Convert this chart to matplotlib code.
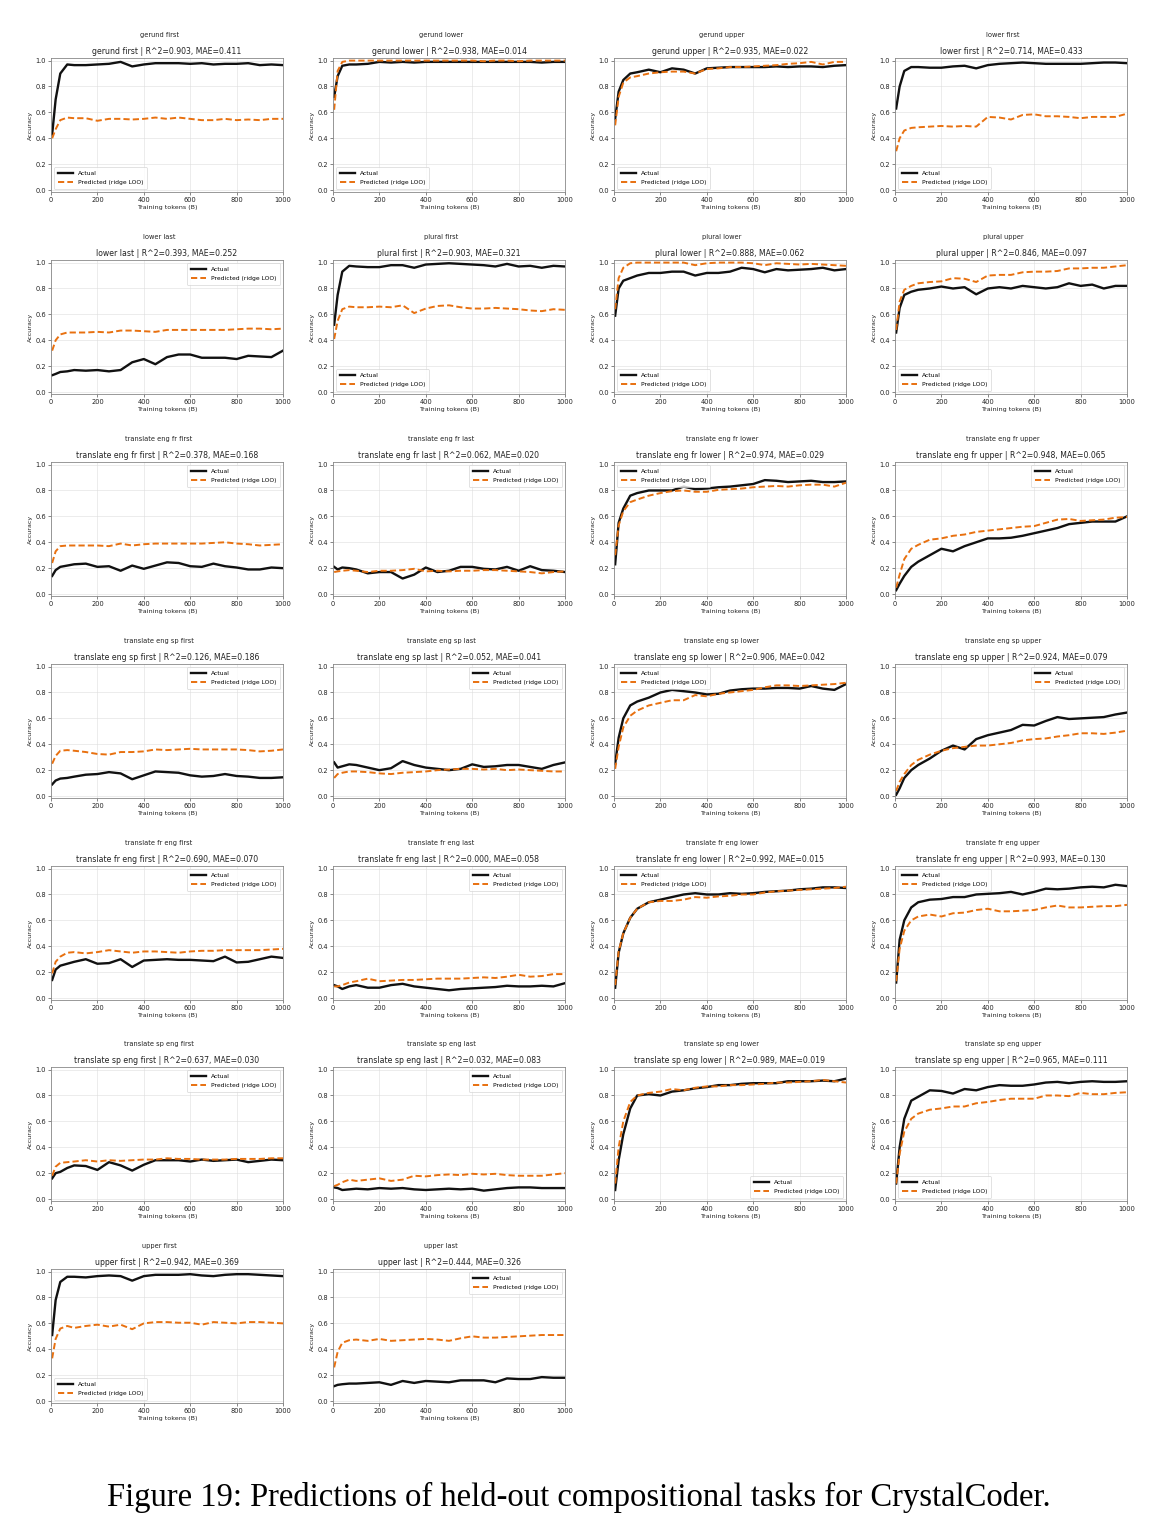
import matplotlib
matplotlib.use('Agg')
from matplotlib import pyplot as plt

filename = 'out.png'

# training tokens (B) at which checkpoints were evaluated
tokens = [5, 20, 40, 70, 100, 150, 200, 250, 300, 350, 400, 450, 500,
          550, 600, 650, 700, 750, 800, 850, 900, 950, 1000]

tasks = [
    'gerund first', 'gerund lower', 'gerund upper', 'lower first',
    'lower last', 'plural first', 'plural lower', 'plural upper',
    'translate eng fr first', 'translate eng fr last', 'translate eng fr lower', 'translate eng fr upper',
    'translate eng sp first', 'translate eng sp last', 'translate eng sp lower', 'translate eng sp upper',
    'translate fr eng first', 'translate fr eng last', 'translate fr eng lower', 'translate fr eng upper',
    'translate sp eng first', 'translate sp eng last', 'translate sp eng lower', 'translate sp eng upper',
    'upper first', 'upper last',
]

r2 = [0.903, 0.938, 0.935, 0.714, 0.393, 0.903, 0.888, 0.846,
      0.378, 0.062, 0.974, 0.948, 0.126, 0.052, 0.906, 0.924,
      0.690, 0.000, 0.992, 0.993, 0.637, 0.032, 0.989, 0.965,
      0.942, 0.444]
mae = [0.411, 0.014, 0.022, 0.433, 0.252, 0.321, 0.062, 0.097,
       0.168, 0.020, 0.029, 0.065, 0.186, 0.041, 0.042, 0.079,
       0.070, 0.058, 0.015, 0.130, 0.030, 0.083, 0.019, 0.111,
       0.369, 0.326]

actual = [
    [0.43, 0.70, 0.90, 0.97, 0.965, 0.965, 0.97, 0.975, 0.99, 0.955, 0.97, 0.98, 0.98, 0.98, 0.975, 0.98, 0.97, 0.975, 0.975, 0.98, 0.965, 0.97, 0.965],
    [0.72, 0.88, 0.96, 0.97, 0.97, 0.975, 0.99, 0.985, 0.99, 0.985, 0.99, 0.99, 0.99, 0.99, 0.99, 0.99, 0.99, 0.99, 0.99, 0.99, 0.985, 0.99, 0.99],
    [0.55, 0.76, 0.85, 0.90, 0.91, 0.93, 0.91, 0.94, 0.93, 0.90, 0.94, 0.945, 0.95, 0.95, 0.95, 0.95, 0.955, 0.95, 0.955, 0.955, 0.95, 0.96, 0.965],
    [0.63, 0.80, 0.92, 0.95, 0.95, 0.945, 0.945, 0.955, 0.96, 0.94, 0.965, 0.975, 0.98, 0.985, 0.98, 0.975, 0.975, 0.975, 0.975, 0.98, 0.985, 0.985, 0.98],
    [0.13, 0.14, 0.155, 0.16, 0.17, 0.165, 0.17, 0.16, 0.17, 0.23, 0.255, 0.215, 0.27, 0.29, 0.29, 0.265, 0.265, 0.265, 0.255, 0.28, 0.275, 0.27, 0.32],
    [0.52, 0.75, 0.93, 0.975, 0.97, 0.965, 0.965, 0.98, 0.98, 0.96, 0.985, 0.99, 0.995, 0.99, 0.985, 0.98, 0.97, 0.99, 0.97, 0.975, 0.96, 0.975, 0.97],
    [0.59, 0.80, 0.86, 0.88, 0.90, 0.92, 0.92, 0.93, 0.93, 0.90, 0.92, 0.92, 0.93, 0.96, 0.95, 0.925, 0.95, 0.94, 0.945, 0.95, 0.96, 0.94, 0.95],
    [0.46, 0.65, 0.75, 0.775, 0.79, 0.80, 0.815, 0.80, 0.81, 0.755, 0.80, 0.81, 0.80, 0.82, 0.81, 0.80, 0.81, 0.84, 0.82, 0.83, 0.80, 0.82, 0.82],
    [0.14, 0.185, 0.21, 0.22, 0.23, 0.235, 0.21, 0.215, 0.18, 0.22, 0.195, 0.22, 0.245, 0.24, 0.215, 0.21, 0.235, 0.215, 0.205, 0.19, 0.19, 0.205, 0.20],
    [0.21, 0.19, 0.205, 0.20, 0.19, 0.16, 0.17, 0.17, 0.12, 0.15, 0.205, 0.17, 0.18, 0.21, 0.21, 0.195, 0.19, 0.21, 0.18, 0.215, 0.185, 0.18, 0.17],
    [0.23, 0.55, 0.66, 0.76, 0.78, 0.80, 0.80, 0.80, 0.83, 0.81, 0.815, 0.825, 0.83, 0.84, 0.85, 0.88, 0.875, 0.865, 0.87, 0.875, 0.865, 0.865, 0.87],
    [0.03, 0.08, 0.14, 0.21, 0.25, 0.30, 0.35, 0.33, 0.37, 0.40, 0.43, 0.43, 0.435, 0.45, 0.47, 0.49, 0.51, 0.54, 0.55, 0.56, 0.56, 0.56, 0.60],
    [0.09, 0.12, 0.135, 0.14, 0.15, 0.165, 0.17, 0.185, 0.175, 0.13, 0.16, 0.19, 0.185, 0.18, 0.16, 0.15, 0.155, 0.17, 0.155, 0.15, 0.14, 0.14, 0.145],
    [0.26, 0.22, 0.23, 0.245, 0.24, 0.22, 0.20, 0.215, 0.27, 0.24, 0.22, 0.21, 0.20, 0.21, 0.245, 0.225, 0.23, 0.24, 0.24, 0.225, 0.21, 0.24, 0.26],
    [0.25, 0.45, 0.60, 0.70, 0.73, 0.76, 0.80, 0.82, 0.81, 0.80, 0.785, 0.79, 0.815, 0.825, 0.83, 0.83, 0.835, 0.835, 0.83, 0.85, 0.83, 0.82, 0.865],
    [0.01, 0.06, 0.14, 0.20, 0.24, 0.29, 0.35, 0.39, 0.36, 0.44, 0.47, 0.49, 0.51, 0.55, 0.545, 0.58, 0.61, 0.595, 0.60, 0.605, 0.61, 0.63, 0.645],
    [0.14, 0.22, 0.25, 0.265, 0.28, 0.30, 0.265, 0.27, 0.30, 0.24, 0.29, 0.295, 0.30, 0.295, 0.295, 0.29, 0.285, 0.32, 0.275, 0.28, 0.30, 0.32, 0.31],
    [0.10, 0.09, 0.07, 0.09, 0.10, 0.08, 0.08, 0.10, 0.11, 0.09, 0.08, 0.07, 0.06, 0.07, 0.075, 0.08, 0.085, 0.095, 0.09, 0.09, 0.095, 0.09, 0.115],
    [0.08, 0.35, 0.50, 0.62, 0.69, 0.74, 0.76, 0.78, 0.80, 0.81, 0.80, 0.80, 0.81, 0.805, 0.81, 0.82, 0.825, 0.83, 0.84, 0.845, 0.855, 0.855, 0.85],
    [0.12, 0.45, 0.60, 0.70, 0.74, 0.76, 0.765, 0.78, 0.78, 0.80, 0.805, 0.81, 0.82, 0.80, 0.82, 0.845, 0.84, 0.845, 0.855, 0.86, 0.855, 0.875, 0.865],
    [0.16, 0.20, 0.21, 0.24, 0.26, 0.255, 0.225, 0.285, 0.26, 0.22, 0.265, 0.30, 0.30, 0.30, 0.29, 0.305, 0.295, 0.30, 0.305, 0.285, 0.295, 0.305, 0.30],
    [0.09, 0.085, 0.07, 0.075, 0.08, 0.075, 0.085, 0.08, 0.085, 0.075, 0.07, 0.075, 0.08, 0.075, 0.08, 0.065, 0.075, 0.085, 0.09, 0.09, 0.085, 0.085, 0.085],
    [0.07, 0.30, 0.50, 0.70, 0.80, 0.81, 0.80, 0.83, 0.84, 0.855, 0.865, 0.88, 0.88, 0.89, 0.895, 0.895, 0.895, 0.91, 0.91, 0.91, 0.915, 0.91, 0.93],
    [0.12, 0.40, 0.62, 0.76, 0.79, 0.84, 0.835, 0.815, 0.85, 0.84, 0.865, 0.88, 0.875, 0.875, 0.885, 0.90, 0.905, 0.895, 0.905, 0.91, 0.905, 0.905, 0.91],
    [0.51, 0.78, 0.92, 0.96, 0.96, 0.955, 0.965, 0.97, 0.965, 0.93, 0.965, 0.975, 0.975, 0.975, 0.98, 0.97, 0.965, 0.975, 0.98, 0.98, 0.975, 0.97, 0.965],
    [0.115, 0.125, 0.13, 0.135, 0.135, 0.14, 0.145, 0.125, 0.155, 0.14, 0.155, 0.15, 0.145, 0.16, 0.16, 0.16, 0.145, 0.175, 0.17, 0.17, 0.185, 0.18, 0.18],
]

predicted = [
    [0.40, 0.47, 0.54, 0.56, 0.555, 0.555, 0.535, 0.55, 0.55, 0.545, 0.55, 0.56, 0.55, 0.56, 0.55, 0.54, 0.54, 0.55, 0.54, 0.545, 0.54, 0.55, 0.55],
    [0.62, 0.92, 0.99, 1.0, 1.0, 1.0, 1.0, 1.0, 1.0, 1.0, 1.0, 1.0, 1.0, 1.0, 1.0, 0.995, 1.0, 1.0, 0.995, 1.0, 1.0, 1.0, 1.0],
    [0.50, 0.72, 0.83, 0.87, 0.88, 0.90, 0.91, 0.915, 0.915, 0.90, 0.935, 0.94, 0.95, 0.95, 0.955, 0.96, 0.965, 0.975, 0.98, 0.99, 0.97, 0.99, 0.99],
    [0.30, 0.40, 0.46, 0.48, 0.485, 0.49, 0.495, 0.49, 0.495, 0.49, 0.565, 0.56, 0.545, 0.58, 0.585, 0.57, 0.57, 0.565, 0.555, 0.565, 0.565, 0.565, 0.59],
    [0.32, 0.40, 0.445, 0.46, 0.46, 0.46, 0.465, 0.46, 0.475, 0.475, 0.47, 0.465, 0.48, 0.48, 0.48, 0.48, 0.48, 0.48, 0.485, 0.49, 0.49, 0.485, 0.49],
    [0.41, 0.55, 0.64, 0.66, 0.655, 0.655, 0.66, 0.655, 0.67, 0.61, 0.645, 0.665, 0.67, 0.655, 0.645, 0.645, 0.65, 0.645, 0.64, 0.63, 0.625, 0.64, 0.635],
    [0.64, 0.88, 0.96, 0.995, 1.0, 1.0, 1.0, 1.0, 1.0, 0.98, 0.995, 1.0, 1.0, 1.0, 0.995, 0.98, 0.995, 0.99, 0.985, 0.99, 0.985, 0.98, 0.975],
    [0.48, 0.70, 0.79, 0.82, 0.84, 0.85, 0.855, 0.88, 0.875, 0.85, 0.90, 0.905, 0.905, 0.925, 0.93, 0.93, 0.935, 0.955, 0.955, 0.96, 0.96, 0.97, 0.98],
    [0.24, 0.33, 0.37, 0.375, 0.375, 0.375, 0.375, 0.37, 0.39, 0.375, 0.385, 0.39, 0.39, 0.39, 0.39, 0.39, 0.395, 0.40, 0.39, 0.385, 0.375, 0.38, 0.385],
    [0.17, 0.175, 0.18, 0.185, 0.18, 0.17, 0.18, 0.18, 0.185, 0.195, 0.175, 0.18, 0.175, 0.18, 0.18, 0.185, 0.185, 0.18, 0.175, 0.17, 0.16, 0.17, 0.175],
    [0.30, 0.53, 0.64, 0.71, 0.73, 0.76, 0.78, 0.795, 0.80, 0.79, 0.79, 0.805, 0.81, 0.815, 0.825, 0.83, 0.835, 0.83, 0.84, 0.845, 0.845, 0.83, 0.86],
    [0.05, 0.15, 0.27, 0.35, 0.38, 0.42, 0.43, 0.45, 0.46, 0.48, 0.49, 0.50, 0.51, 0.52, 0.525, 0.55, 0.575, 0.58, 0.565, 0.57, 0.575, 0.59, 0.595],
    [0.25, 0.31, 0.35, 0.355, 0.35, 0.34, 0.325, 0.32, 0.34, 0.34, 0.345, 0.36, 0.355, 0.36, 0.365, 0.36, 0.36, 0.36, 0.36, 0.355, 0.345, 0.35, 0.36],
    [0.14, 0.17, 0.18, 0.19, 0.19, 0.185, 0.175, 0.17, 0.18, 0.185, 0.19, 0.20, 0.205, 0.21, 0.21, 0.205, 0.21, 0.20, 0.205, 0.20, 0.195, 0.19, 0.19],
    [0.21, 0.38, 0.53, 0.62, 0.66, 0.70, 0.72, 0.74, 0.74, 0.78, 0.77, 0.79, 0.80, 0.81, 0.82, 0.84, 0.855, 0.855, 0.85, 0.855, 0.86, 0.865, 0.875],
    [0.04, 0.11, 0.17, 0.24, 0.28, 0.32, 0.35, 0.37, 0.38, 0.39, 0.39, 0.40, 0.41, 0.43, 0.44, 0.445, 0.46, 0.47, 0.485, 0.485, 0.48, 0.49, 0.505],
    [0.19, 0.28, 0.32, 0.35, 0.355, 0.345, 0.355, 0.37, 0.36, 0.35, 0.36, 0.36, 0.355, 0.35, 0.36, 0.365, 0.365, 0.37, 0.37, 0.37, 0.37, 0.375, 0.38],
    [0.09, 0.09, 0.10, 0.12, 0.13, 0.15, 0.13, 0.135, 0.14, 0.14, 0.145, 0.15, 0.15, 0.15, 0.155, 0.16, 0.155, 0.165, 0.18, 0.165, 0.17, 0.185, 0.185],
    [0.10, 0.36, 0.50, 0.62, 0.69, 0.74, 0.75, 0.75, 0.76, 0.78, 0.775, 0.785, 0.79, 0.80, 0.80, 0.815, 0.825, 0.83, 0.835, 0.84, 0.845, 0.85, 0.86],
    [0.13, 0.38, 0.52, 0.60, 0.63, 0.645, 0.63, 0.655, 0.66, 0.68, 0.69, 0.67, 0.67, 0.675, 0.68, 0.70, 0.715, 0.70, 0.70, 0.705, 0.71, 0.71, 0.72],
    [0.18, 0.25, 0.28, 0.285, 0.29, 0.30, 0.29, 0.30, 0.295, 0.30, 0.305, 0.305, 0.315, 0.31, 0.31, 0.305, 0.305, 0.305, 0.31, 0.31, 0.31, 0.315, 0.315],
    [0.10, 0.11, 0.13, 0.15, 0.14, 0.15, 0.16, 0.14, 0.15, 0.18, 0.175, 0.185, 0.19, 0.185, 0.195, 0.19, 0.195, 0.185, 0.18, 0.18, 0.18, 0.19, 0.20],
    [0.12, 0.40, 0.60, 0.75, 0.80, 0.82, 0.83, 0.85, 0.84, 0.86, 0.87, 0.87, 0.88, 0.88, 0.885, 0.89, 0.90, 0.90, 0.905, 0.91, 0.92, 0.91, 0.90],
    [0.12, 0.35, 0.52, 0.62, 0.66, 0.69, 0.70, 0.715, 0.715, 0.74, 0.75, 0.765, 0.775, 0.775, 0.775, 0.80, 0.80, 0.795, 0.82, 0.81, 0.81, 0.82, 0.825],
    [0.33, 0.48, 0.56, 0.58, 0.565, 0.58, 0.59, 0.575, 0.59, 0.555, 0.60, 0.61, 0.61, 0.605, 0.605, 0.59, 0.61, 0.605, 0.60, 0.61, 0.61, 0.605, 0.60],
    [0.26, 0.38, 0.45, 0.47, 0.475, 0.465, 0.48, 0.465, 0.47, 0.475, 0.48, 0.475, 0.465, 0.485, 0.50, 0.49, 0.49, 0.495, 0.50, 0.505, 0.51, 0.51, 0.51],
]

legend_locs = [
    'lower left', 'lower left', 'lower left', 'lower left',
    'upper right', 'lower left', 'lower left', 'lower left',
    'upper right', 'upper right', 'upper left', 'upper right',
    'upper right', 'upper right', 'upper left', 'upper right',
    'upper right', 'upper right', 'upper left', 'upper left',
    'upper right', 'upper right', 'lower right', 'lower left',
    'lower left', 'upper right',
]

W, H = 1158, 1530
col_left = [51, 333, 614, 895]
row_top = [58, 260, 462, 664, 866, 1067, 1269]
ax_w, ax_h = 232, 134

text_c = '#222222'
orange = '#e8700f'

fig = plt.figure(figsize=(W / 100, H / 100), dpi=100)

for i, task in enumerate(tasks):
    r, c = divmod(i, 4)
    left = col_left[c] / W
    bottom = 1 - (row_top[r] + ax_h) / H
    ax = fig.add_axes([left, bottom, ax_w / W, ax_h / H])

    ax.plot(tokens, actual[i], color='#111111', lw=1.7, label='Actual')
    ax.plot(tokens, predicted[i], color=orange, lw=1.4, ls='--', dashes=(3.2, 1.6),
            label='Predicted (ridge LOO)')

    ax.set_xlim(0, 1000)
    ax.set_ylim(-0.015, 1.02)
    ax.set_xticks([0, 200, 400, 600, 800, 1000])
    ax.set_yticks([0.0, 0.2, 0.4, 0.6, 0.8, 1.0])
    ax.tick_params(labelsize=4.8, length=2, width=0.5, pad=1.5, colors='#555555',
                   labelcolor=text_c)
    ax.grid(True, color='#dddddd', lw=0.5, alpha=0.8)
    ax.set_axisbelow(True)
    for s in ax.spines.values():
        s.set_color('#888888')
        s.set_linewidth(0.6)

    ax.set_xlabel('Training tokens (B)', fontsize=4.6, color=text_c, labelpad=1.5)
    ax.set_ylabel('Accuracy', fontsize=4.6, color=text_c, labelpad=2)
    ax.set_title(f'{task} | R^2={r2[i]:.3f}, MAE={mae[i]:.3f}',
                 fontsize=5.6, color=text_c, pad=3)

    # outer per-panel heading, slightly left of axes centre
    cx = (col_left[c] + ax_w / 2 - 8) / W
    cy = 1 - (row_top[r] - 23) / H
    fig.text(cx, cy, task, fontsize=4.8, color=text_c, ha='center', va='center')

    leg = ax.legend(loc=legend_locs[i], fontsize=4.3, frameon=True, borderpad=0.6,
                    handlelength=2.6, labelspacing=0.7, fancybox=True)
    leg.get_frame().set_linewidth(0.5)
    leg.get_frame().set_edgecolor('#cccccc')

fig.text(0.5, 1 - 1497 / H, 'Figure 19: Predictions of held-out compositional tasks for CrystalCoder.',
         fontsize=23.5, family='Liberation Serif', ha='center', va='center', color='black')

plt.savefig(filename, dpi=100)
plt.close()
